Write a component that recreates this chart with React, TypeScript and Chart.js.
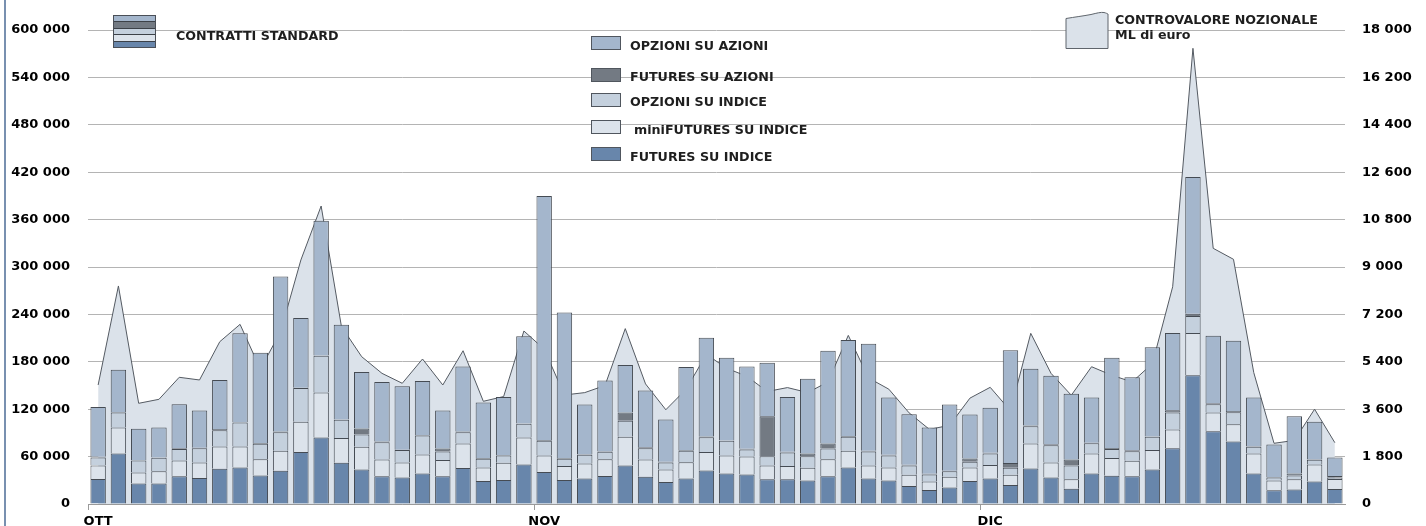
import React, { useEffect, useRef } from "react";
import { Chart, registerables } from "chart.js";

Chart.register(...registerables);

const FONT = '"DejaVu Sans", sans-serif';

// Month tick labels and the bar index where each month starts
const monthLabels = ["OTT", "NOV", "DIC"];
const monthStarts = [0, 22, 44];

// Series names (bottom to top of the stack)
const seriesNames = [
  "FUTURES SU INDICE",
  "miniFUTURES SU INDICE",
  "OPZIONI SU INDICE",
  "FUTURES SU AZIONI",
  "OPZIONI SU AZIONI",
];

// Contracts per day (left axis)
const futuresIndice = [31600, 64000, 26100, 26100, 35000, 32800, 44600, 46300, 36200, 42100, 65700, 84200, 52200, 43800, 35000, 33700, 38700, 35000, 45500, 29000, 30300, 50100, 40400, 30300, 32400, 35400, 48800, 34500, 27800, 32400, 42500, 38700, 37500, 31200, 31200, 29900, 35000, 46300, 32400, 29900, 22700, 17700, 21000, 29000, 32400, 24000, 45000, 33700, 19400, 38700, 35800, 35000, 43800, 70700, 162900, 92200, 79100, 38700, 17300, 18500, 28600, 18900];
const miniFuturesIndice = [17200, 32800, 13900, 15200, 20200, 19800, 28200, 26500, 20600, 25300, 38300, 56800, 31200, 28600, 21400, 18900, 24000, 20600, 31100, 17300, 21900, 34100, 21100, 17700, 19000, 21400, 36200, 21900, 16000, 20600, 23200, 22800, 22700, 17600, 16800, 16000, 21800, 21100, 16400, 16400, 14300, 10900, 13500, 17300, 16900, 13000, 31600, 18900, 11800, 25300, 22300, 19700, 24400, 23600, 53500, 23600, 21900, 25300, 12600, 12700, 21500, 12700];
const opzioniIndice = [10100, 19000, 15200, 17200, 14300, 18100, 20700, 30300, 19400, 23500, 42900, 46800, 23100, 15600, 21900, 15600, 24000, 10900, 14300, 11000, 9300, 17300, 18500, 9300, 10900, 9300, 20300, 14300, 8800, 14400, 18900, 18500, 8800, 11800, 17300, 14700, 13500, 17600, 17700, 15200, 11800, 8900, 6800, 7200, 14700, 8900, 21900, 21900, 17600, 13000, 11400, 12200, 16800, 21500, 21500, 10500, 15200, 8400, 3800, 5000, 5900, 1500];
const futuresAzioni = [1000, 500, 300, 500, 1000, 500, 1500, 300, 1000, 1000, 300, 300, 500, 7600, 800, 500, 800, 3800, 1000, 800, 500, 500, 1000, 1000, 800, 800, 10500, 1000, 1000, 1000, 1000, 500, 800, 50500, 800, 3400, 6300, 1200, 800, 1000, 1000, 800, 800, 4200, 1000, 5900, 1000, 1000, 7600, 500, 1500, 1200, 500, 3000, 3000, 1200, 1500, 800, 500, 2500, 500, 2300];
const opzioniAzioni = [63000, 53700, 39600, 37800, 55800, 47100, 62000, 112600, 114400, 196100, 88100, 170600, 119900, 71500, 75400, 80300, 68300, 48000, 82000, 70300, 73600, 110200, 308900, 184200, 62800, 89300, 60200, 71900, 53300, 105100, 124900, 104700, 104100, 67800, 69500, 94700, 117500, 121400, 135600, 72200, 63900, 58500, 83800, 55500, 56700, 142700, 71800, 87000, 83000, 57200, 114200, 92300, 112800, 97600, 173000, 85500, 89000, 61500, 41200, 72400, 47500, 23500];

// Notional value, millions of euro (right axis)
const controvalore = [4519, 8280, 3824, 3975, 4812, 4710, 6164, 6822, 5127, 6540, 9267, 11316, 6741, 5594, 4962, 4584, 5506, 4519, 5820, 3900, 4080, 6570, 5880, 4140, 4230, 4500, 6660, 4560, 3580, 4357, 5684, 5154, 4850, 4272, 4421, 4231, 4635, 6403, 4787, 4360, 3461, 2835, 2987, 4020, 4431, 3540, 6481, 4962, 4130, 5213, 4889, 4635, 5330, 8250, 17305, 9710, 9292, 4990, 2305, 2415, 3600, 2328];

const seriesData = [futuresIndice, miniFuturesIndice, opzioniIndice, futuresAzioni, opzioniAzioni];
const seriesColors = ["#6886ab", "#dce3eb", "#c4d0dd", "#737a83", "#a4b6cc"];
const areaColor = "#dbe2ea";

const xLabels: string[] = futuresIndice.map((_, i) => {
  const k = monthStarts.indexOf(i);
  return k >= 0 ? monthLabels[k] : "";
});

const fmt = (v: number) => String(v).replace(/\B(?=(\d{3})+(?!\d))/g, " ");

const textStyle: React.CSSProperties = {
  position: "absolute",
  fontFamily: FONT,
  fontWeight: "bold",
  fontSize: "12.7px",
  color: "#1e1e1e",
  whiteSpace: "nowrap",
  lineHeight: "16px",
  height: 16,
};

export default function App() {
  const ref = useRef<HTMLCanvasElement>(null);

  useEffect(() => {
    if (!ref.current) return;
    const barSets = seriesData.map((d, i) => ({
      type: "bar" as const,
      label: seriesNames[i],
      data: d,
      yAxisID: "y",
      stack: "contratti",
      order: 1,
      backgroundColor: seriesColors[i],
      borderColor: "#454b53",
      borderWidth: 1,
      barPercentage: 0.76,
      categoryPercentage: 1,
    }));
    const chart = new Chart(ref.current, {
      type: "bar",
      data: {
        labels: xLabels,
        datasets: [
          ...barSets,
          {
            type: "line" as const,
            label: "CONTROVALORE NOZIONALE",
            data: controvalore,
            yAxisID: "y1",
            order: 2,
            fill: "origin",
            backgroundColor: areaColor,
            borderColor: "#545a62",
            borderWidth: 1,
            pointRadius: 0,
            tension: 0,
          },
        ] as any,
      },
      options: {
        responsive: false,
        devicePixelRatio: 1,
        animation: false,
        layout: { padding: { top: 30, left: 0, right: 0, bottom: 0 } },
        plugins: { legend: { display: false }, tooltip: { enabled: false } },
        scales: {
          x: {
            stacked: true,
            offset: true,
            grid: {
              offset: true,
              drawOnChartArea: false,
              drawTicks: true,
              tickLength: 6,
              color: (ctx: any) => (monthStarts.includes(ctx.index) ? "#9a9a9a" : "rgba(0,0,0,0)"),
            },
            border: { display: true, color: "#9a9a9a", width: 1 },
            ticks: {
              autoSkip: false,
              maxRotation: 0,
              padding: 4,
              color: "#000",
              font: { family: FONT, size: 13, weight: "bold" },
            },
            afterFit: (s: any) => {
              s.height = 22;
            },
          },
          y: {
            stacked: true,
            position: "left",
            min: 0,
            max: 600000,
            grid: {
              color: "#b4b4b4",
              lineWidth: 1,
              drawTicks: true,
              tickLength: 18,
              tickColor: "rgba(0,0,0,0)",
            },
            border: { display: false },
            ticks: {
              stepSize: 60000,
              padding: 0,
              color: "#000",
              font: { family: FONT, size: 13, weight: "bold" },
              callback: (v: any) => fmt(Number(v)),
            },
            afterFit: (s: any) => {
              s.width = 88;
            },
          },
          y1: {
            position: "right",
            min: 0,
            max: 18000,
            grid: {
              drawOnChartArea: false,
              drawTicks: true,
              tickLength: 17,
              tickColor: "rgba(0,0,0,0)",
            },
            border: { display: false },
            ticks: {
              stepSize: 1800,
              padding: 0,
              color: "#000",
              font: { family: FONT, size: 13, weight: "bold" },
              callback: (v: any) => fmt(Number(v)),
            },
            afterFit: (s: any) => {
              s.width = 81;
            },
          },
        },
      } as any,
    });
    return () => chart.destroy();
  }, []);

  const legendRows = [
    { idx: 4, top: 36, tx: 630, ty: 46 },
    { idx: 3, top: 68, tx: 630, ty: 77 },
    { idx: 2, top: 93, tx: 630, ty: 102 },
    { idx: 1, top: 120, tx: 634, ty: 130 },
    { idx: 0, top: 147, tx: 630, ty: 157 },
  ];

  return (
    <div
      style={{
        position: "absolute",
        left: 0,
        top: 0,
        width: 1426,
        height: 526,
        overflow: "hidden",
        background: "#fff",
      }}
    >
      <canvas
        ref={ref}
        width={1426}
        height={526}
        style={{ position: "absolute", left: 0, top: 0, width: 1426, height: 526 }}
      />
      {/* left frame line */}
      <div style={{ position: "absolute", left: 4, top: 0, width: 2, height: 526, background: "#7890b0" }} />

      {/* CONTRATTI STANDARD legend */}
      <div
        style={{
          position: "absolute",
          left: 113,
          top: 15,
          width: 43,
          height: 33,
          boxSizing: "border-box",
          border: "1px solid #4a4f57",
          display: "flex",
          flexDirection: "column",
        }}
      >
        {[4, 3, 2, 1, 0].map((si, k) => (
          <div
            key={si}
            style={{
              flex: 1,
              background: seriesColors[si],
              borderTop: k === 0 ? "none" : "1px solid #3c4148",
            }}
          />
        ))}
      </div>
      <div style={{ ...textStyle, left: 176, top: 28 }}>CONTRATTI STANDARD</div>

      {/* series legend */}
      {legendRows.map((r) => (
        <React.Fragment key={r.idx}>
          <div
            style={{
              position: "absolute",
              left: 591,
              top: r.top,
              width: 30,
              height: 14,
              boxSizing: "border-box",
              border: "1px solid #50565e",
              background: seriesColors[r.idx],
            }}
          />
          <div style={{ ...textStyle, left: r.tx, top: r.ty - 8 }}>{seriesNames[r.idx]}</div>
        </React.Fragment>
      ))}

      {/* notional value legend */}
      <svg
        width={45}
        height={40}
        style={{ position: "absolute", left: 1065, top: 11 }}
      >
        <path
          d="M1,7.5 C10,6 18,5 26,3.5 C32,2 36,1 39,1.5 C41,2 42,2.5 43,3 L43,37.5 L1,37.5 Z"
          fill={areaColor}
          stroke="#5f656c"
          strokeWidth={1}
        />
      </svg>
      <div style={{ ...textStyle, left: 1115, top: 12 }}>CONTROVALORE NOZIONALE</div>
      <div style={{ ...textStyle, left: 1115, top: 27 }}>ML di euro</div>
    </div>
  );
}
